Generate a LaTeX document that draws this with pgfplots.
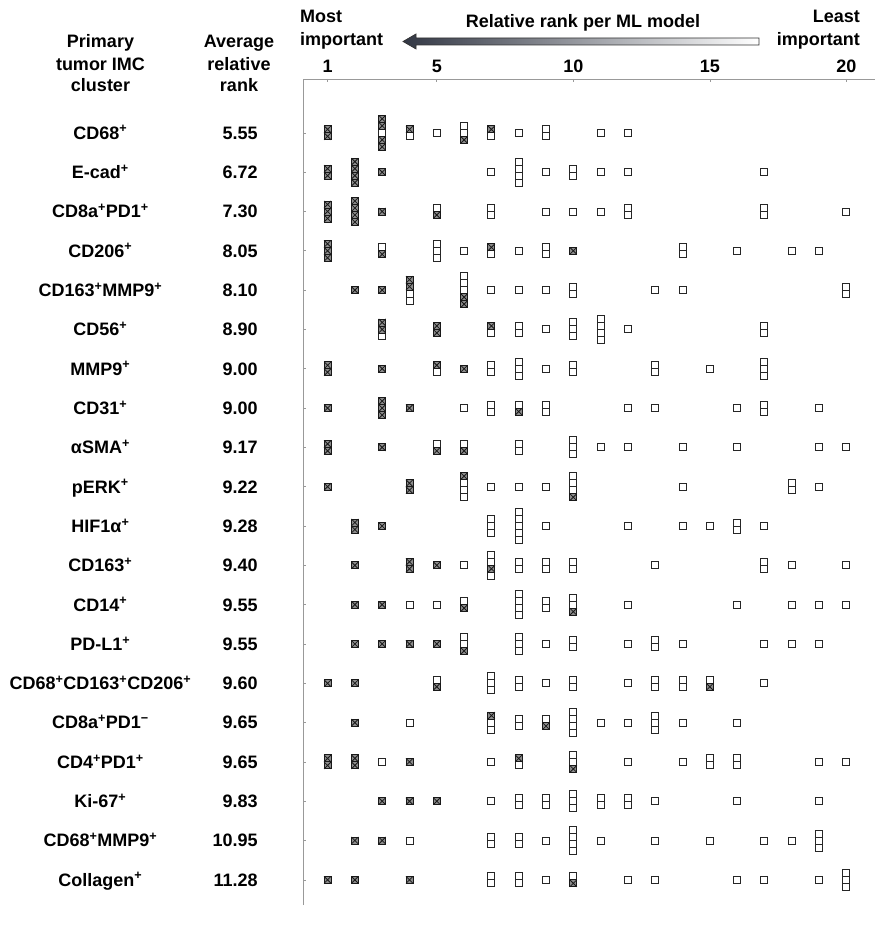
\documentclass[border=0pt]{standalone}
\usepackage{pgfplots}
\usepackage{pgfplotstable}
\pgfplotsset{compat=1.18}
\usepackage{fontspec}
\setmainfont{Liberation Sans}
\newcommand{\F}{\fontsize{18}{21}\selectfont\bfseries}
\newcommand{\pl}{\textsuperscript{+}}
\newcommand{\mi}{\textsuperscript{\char"2212}}
\pgfdeclareplotmark{xbox}{%
  \pgfpathrectangle{\pgfqpoint{-\pgfplotmarksize}{-\pgfplotmarksize}}{\pgfqpoint{2\pgfplotmarksize}{2\pgfplotmarksize}}%
  \pgfusepathqfillstroke
  \pgfpathmoveto{\pgfqpoint{-\pgfplotmarksize}{-\pgfplotmarksize}}%
  \pgfpathlineto{\pgfqpoint{\pgfplotmarksize}{\pgfplotmarksize}}%
  \pgfpathmoveto{\pgfqpoint{-\pgfplotmarksize}{\pgfplotmarksize}}%
  \pgfpathlineto{\pgfqpoint{\pgfplotmarksize}{-\pgfplotmarksize}}%
  \pgfusepathqstroke
}
% empty squares: x = rank, r = row, s = slot in the stack (half-pitch units)
\pgfplotstableread[row sep=\\]{
x r s\\
3 1 0\\ 4 1 -1\\ 5 1 0\\ 6 1 2\\ 6 1 0\\ 7 1 -1\\ 8 1 0\\ 9 1 1\\ 9 1 -1\\ 11 1 0\\ 12 1 0\\
7 2 0\\ 8 2 3\\ 8 2 1\\ 8 2 -1\\ 8 2 -3\\ 9 2 0\\ 10 2 1\\ 10 2 -1\\ 11 2 0\\ 12 2 0\\ 17 2 0\\
5 3 1\\ 7 3 1\\ 7 3 -1\\ 9 3 0\\ 10 3 0\\ 11 3 0\\ 12 3 1\\ 12 3 -1\\ 17 3 1\\ 17 3 -1\\ 20 3 0\\
3 4 1\\ 5 4 2\\ 5 4 0\\ 5 4 -2\\ 6 4 0\\ 7 4 -1\\ 8 4 0\\ 9 4 1\\ 9 4 -1\\ 14 4 1\\ 14 4 -1\\ 16 4 0\\ 18 4 0\\ 19 4 0\\
4 5 -1\\ 4 5 -3\\ 6 5 4\\ 6 5 2\\ 6 5 0\\ 7 5 0\\ 8 5 0\\ 9 5 0\\ 10 5 1\\ 10 5 -1\\ 13 5 0\\ 14 5 0\\ 20 5 1\\ 20 5 -1\\
3 6 -2\\ 7 6 -1\\ 8 6 1\\ 8 6 -1\\ 9 6 0\\ 10 6 2\\ 10 6 0\\ 10 6 -2\\ 11 6 3\\ 11 6 1\\ 11 6 -1\\ 11 6 -3\\ 12 6 0\\ 17 6 1\\ 17 6 -1\\
5 7 -1\\ 7 7 1\\ 7 7 -1\\ 8 7 2\\ 8 7 0\\ 8 7 -2\\ 9 7 0\\ 10 7 1\\ 10 7 -1\\ 13 7 1\\ 13 7 -1\\ 15 7 0\\ 17 7 2\\ 17 7 0\\ 17 7 -2\\
6 8 0\\ 7 8 1\\ 7 8 -1\\ 8 8 1\\ 9 8 1\\ 9 8 -1\\ 12 8 0\\ 13 8 0\\ 16 8 0\\ 17 8 1\\ 17 8 -1\\ 19 8 0\\
5 9 1\\ 6 9 1\\ 8 9 1\\ 8 9 -1\\ 10 9 2\\ 10 9 0\\ 10 9 -2\\ 11 9 0\\ 12 9 0\\ 14 9 0\\ 16 9 0\\ 19 9 0\\ 20 9 0\\
6 10 1\\ 6 10 -1\\ 6 10 -3\\ 7 10 0\\ 8 10 0\\ 9 10 0\\ 10 10 3\\ 10 10 1\\ 10 10 -1\\ 14 10 0\\ 18 10 1\\ 18 10 -1\\ 19 10 0\\
7 11 2\\ 7 11 0\\ 7 11 -2\\ 8 11 4\\ 8 11 2\\ 8 11 0\\ 8 11 -2\\ 8 11 -4\\ 9 11 0\\ 12 11 0\\ 14 11 0\\ 15 11 0\\ 16 11 1\\ 16 11 -1\\ 17 11 0\\
6 12 0\\ 7 12 3\\ 7 12 1\\ 7 12 -3\\ 8 12 1\\ 8 12 -1\\ 9 12 1\\ 9 12 -1\\ 10 12 1\\ 10 12 -1\\ 13 12 0\\ 17 12 1\\ 17 12 -1\\ 18 12 0\\ 20 12 0\\
4 13 0\\ 5 13 0\\ 6 13 1\\ 8 13 3\\ 8 13 1\\ 8 13 -1\\ 8 13 -3\\ 9 13 1\\ 9 13 -1\\ 10 13 2\\ 10 13 0\\ 12 13 0\\ 16 13 0\\ 18 13 0\\ 19 13 0\\ 20 13 0\\
6 14 2\\ 6 14 0\\ 8 14 2\\ 8 14 0\\ 8 14 -2\\ 9 14 0\\ 10 14 1\\ 10 14 -1\\ 12 14 0\\ 13 14 1\\ 13 14 -1\\ 14 14 0\\ 17 14 0\\ 18 14 0\\ 19 14 0\\
5 15 1\\ 7 15 2\\ 7 15 0\\ 7 15 -2\\ 8 15 1\\ 8 15 -1\\ 9 15 0\\ 10 15 1\\ 10 15 -1\\ 12 15 0\\ 13 15 1\\ 13 15 -1\\ 14 15 1\\ 14 15 -1\\ 15 15 1\\ 17 15 0\\
4 16 0\\ 7 16 0\\ 7 16 -2\\ 8 16 1\\ 8 16 -1\\ 9 16 1\\ 10 16 3\\ 10 16 1\\ 10 16 -1\\ 10 16 -3\\ 11 16 0\\ 12 16 0\\ 13 16 2\\ 13 16 0\\ 13 16 -2\\ 14 16 0\\ 16 16 0\\
3 17 0\\ 7 17 0\\ 8 17 -1\\ 10 17 2\\ 10 17 0\\ 12 17 0\\ 14 17 0\\ 15 17 1\\ 15 17 -1\\ 16 17 1\\ 16 17 -1\\ 19 17 0\\ 20 17 0\\
7 18 0\\ 8 18 1\\ 8 18 -1\\ 9 18 1\\ 9 18 -1\\ 10 18 2\\ 10 18 0\\ 10 18 -2\\ 11 18 1\\ 11 18 -1\\ 12 18 1\\ 12 18 -1\\ 13 18 0\\ 16 18 0\\ 19 18 0\\
4 19 0\\ 7 19 1\\ 7 19 -1\\ 8 19 1\\ 8 19 -1\\ 9 19 0\\ 10 19 3\\ 10 19 1\\ 10 19 -1\\ 10 19 -3\\ 11 19 0\\ 13 19 0\\ 15 19 0\\ 17 19 0\\ 18 19 0\\ 19 19 2\\ 19 19 0\\ 19 19 -2\\
7 20 1\\ 7 20 -1\\ 8 20 1\\ 8 20 -1\\ 9 20 0\\ 10 20 1\\ 12 20 0\\ 13 20 0\\ 16 20 0\\ 17 20 0\\ 19 20 0\\ 20 20 2\\ 20 20 0\\ 20 20 -2\\
}\tblE
% crossed squares
\pgfplotstableread[row sep=\\]{
x r s\\
1 1 1\\ 1 1 -1\\ 3 1 4\\ 3 1 2\\ 3 1 -2\\ 3 1 -4\\ 4 1 1\\ 6 1 -2\\ 7 1 1\\
1 2 1\\ 1 2 -1\\ 2 2 3\\ 2 2 1\\ 2 2 -1\\ 2 2 -3\\ 3 2 0\\
1 3 2\\ 1 3 0\\ 1 3 -2\\ 2 3 3\\ 2 3 1\\ 2 3 -1\\ 2 3 -3\\ 3 3 0\\ 5 3 -1\\
1 4 2\\ 1 4 0\\ 1 4 -2\\ 3 4 -1\\ 7 4 1\\ 10 4 0\\
2 5 0\\ 3 5 0\\ 4 5 3\\ 4 5 1\\ 6 5 -2\\ 6 5 -4\\
3 6 2\\ 3 6 0\\ 5 6 1\\ 5 6 -1\\ 7 6 1\\
1 7 1\\ 1 7 -1\\ 3 7 0\\ 5 7 1\\ 6 7 0\\
1 8 0\\ 3 8 2\\ 3 8 0\\ 3 8 -2\\ 4 8 0\\ 8 8 -1\\
1 9 1\\ 1 9 -1\\ 3 9 0\\ 5 9 -1\\ 6 9 -1\\
1 10 0\\ 4 10 1\\ 4 10 -1\\ 6 10 3\\ 10 10 -3\\
2 11 1\\ 2 11 -1\\ 3 11 0\\
2 12 0\\ 4 12 1\\ 4 12 -1\\ 5 12 0\\ 7 12 -1\\
2 13 0\\ 3 13 0\\ 6 13 -1\\ 10 13 -2\\
2 14 0\\ 3 14 0\\ 4 14 0\\ 5 14 0\\ 6 14 -2\\
1 15 0\\ 2 15 0\\ 5 15 -1\\ 15 15 -1\\
2 16 0\\ 7 16 2\\ 9 16 -1\\
1 17 1\\ 1 17 -1\\ 2 17 1\\ 2 17 -1\\ 4 17 0\\ 8 17 1\\ 10 17 -2\\
3 18 0\\ 4 18 0\\ 5 18 0\\
2 19 0\\ 3 19 0\\
1 20 0\\ 2 20 0\\ 4 20 0\\ 10 20 -1\\
}\tblX
\begin{document}
\begin{tikzpicture}[x=1pt,y=1pt,
  nm/.style={font=\F, anchor=base, yshift=-6.4pt, inner sep=0pt},
  vl/.style={font=\F, anchor=base east, yshift=-6.4pt, inner sep=0pt},
  hd/.style={font=\F, inner sep=0pt}]
\path[use as bounding box] (0,0) rectangle (875,925);
\begin{axis}[
  at={(303pt,20pt)}, anchor=south west,
  scale only axis, width=572pt, height=826pt,
  xmin=0.1, xmax=21.05, ymin=-20.64, ymax=0.37,
  axis x line*=top, axis y line*=left,
  axis line style={draw=black!40, line width=0.9pt},
  xtick={1,5,10,15,20}, xticklabels={1,5,10,15,20},
  xticklabel style={font=\F, yshift=3pt},
  ytick={-20,-19,...,-1}, yticklabels={},
  tick style={draw=black!40, line width=0.6pt}, major tick length=3pt, tick align=inside,
  clip=false,
]
\addplot[only marks, mark=square*, mark size=3.5pt,
  mark options={fill=white, draw=black!85, line width=0.9pt}]
  table[x=x, y expr={-\thisrow{r}+0.089*\thisrow{s}}] {\tblE};
\addplot[only marks, mark=xbox, mark size=3.5pt,
  mark options={fill=black!45, draw=black!90, line width=0.8pt}]
  table[x=x, y expr={-\thisrow{r}+0.089*\thisrow{s}}] {\tblX};

\node[nm] at (axis cs:-7.32,-1) {CD68\pl};
\node[nm] at (axis cs:-7.32,-2) {E-cad\pl};
\node[nm] at (axis cs:-7.32,-3) {CD8a\pl PD1\pl};
\node[nm] at (axis cs:-7.32,-4) {CD206\pl};
\node[nm] at (axis cs:-7.32,-5) {CD163\pl MMP9\pl};
\node[nm] at (axis cs:-7.32,-6) {CD56\pl};
\node[nm] at (axis cs:-7.32,-7) {MMP9\pl};
\node[nm] at (axis cs:-7.32,-8) {CD31\pl};
\node[nm] at (axis cs:-7.32,-9) {αSMA\pl};
\node[nm] at (axis cs:-7.32,-10) {pERK\pl};
\node[nm] at (axis cs:-7.32,-11) {HIF1α\pl};
\node[nm] at (axis cs:-7.32,-12) {CD163\pl};
\node[nm] at (axis cs:-7.32,-13) {CD14\pl};
\node[nm] at (axis cs:-7.32,-14) {PD-L1\pl};
\node[nm] at (axis cs:-7.32,-15) {CD68\pl CD163\pl CD206\pl};
\node[nm] at (axis cs:-7.32,-16) {CD8a\pl PD1\mi};
\node[nm] at (axis cs:-7.32,-17) {CD4\pl PD1\pl};
\node[nm] at (axis cs:-7.32,-18) {Ki-67\pl};
\node[nm] at (axis cs:-7.32,-19) {CD68\pl MMP9\pl};
\node[nm] at (axis cs:-7.32,-20) {Collagen\pl};

\node[vl] at (axis cs:-1.55,-1) {5.55};
\node[vl] at (axis cs:-1.55,-2) {6.72};
\node[vl] at (axis cs:-1.55,-3) {7.30};
\node[vl] at (axis cs:-1.55,-4) {8.05};
\node[vl] at (axis cs:-1.55,-5) {8.10};
\node[vl] at (axis cs:-1.55,-6) {8.90};
\node[vl] at (axis cs:-1.55,-7) {9.00};
\node[vl] at (axis cs:-1.55,-8) {9.00};
\node[vl] at (axis cs:-1.55,-9) {9.17};
\node[vl] at (axis cs:-1.55,-10) {9.22};
\node[vl] at (axis cs:-1.55,-11) {9.28};
\node[vl] at (axis cs:-1.55,-12) {9.40};
\node[vl] at (axis cs:-1.55,-13) {9.55};
\node[vl] at (axis cs:-1.55,-14) {9.55};
\node[vl] at (axis cs:-1.55,-15) {9.60};
\node[vl] at (axis cs:-1.55,-16) {9.65};
\node[vl] at (axis cs:-1.55,-17) {9.65};
\node[vl] at (axis cs:-1.55,-18) {9.83};
\node[vl] at (axis cs:-1.55,-19) {10.95};
\node[vl] at (axis cs:-1.55,-20) {11.28};
\end{axis}
% column headers
\node[hd, anchor=base] at (100.5,877) {Primary};
\node[hd, anchor=base] at (100.5,854) {tumor IMC};
\node[hd, anchor=base] at (100.5,833) {cluster};
\node[hd, anchor=base] at (239,877) {Average};
\node[hd, anchor=base] at (239,854) {relative};
\node[hd, anchor=base] at (239,833) {rank};
\node[hd, anchor=base west] at (300,902) {Most};
\node[hd, anchor=base west] at (300,879) {important};
\node[hd, anchor=base] at (583,897) {Relative rank per ML model};
\node[hd, anchor=base east] at (860,902) {Least};
\node[hd, anchor=base east] at (860,879) {important};
% gradient arrow
\shadedraw[left color={rgb,255:red,50;green,55;blue,68}, right color=white, draw=black!80, line width=0.7pt]
  (403,883.5) -- (416,891) -- (416,887) -- (759,887) -- (759,880) -- (416,880) -- (416,876) -- cycle;
\end{tikzpicture}
\end{document}
